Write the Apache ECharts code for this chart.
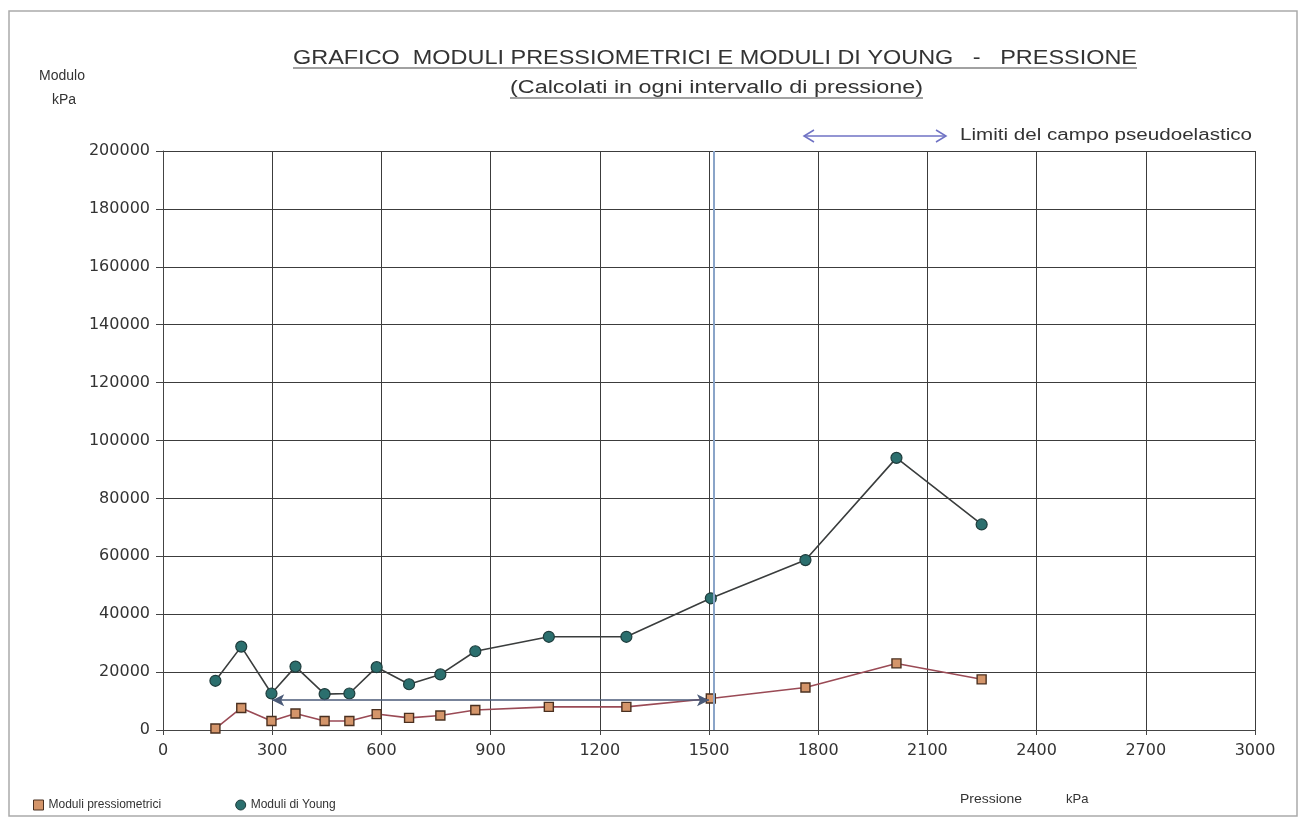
<!DOCTYPE html>
<html>
<head>
<meta charset="utf-8">
<script src="https://cdn.jsdelivr.net/npm/echarts@6/dist/echarts.min.js"></script>
<style>
html,body{margin:0;padding:0;background:#fff;}
#chart{width:1303px;height:822px;}
</style>
</head>
<body>
<div id="chart"></div>
<script>
// ---- data ----
const pressioneYoung = [144, 215, 298, 364, 444, 512, 587, 676, 762, 858, 1060, 1273, 1505, 1765, 2015, 2249];
const moduliYoung = [17000, 28800, 12600, 21900, 12400, 12600, 21700, 15800, 19200, 27200, 32200, 32200, 45500, 58700, 94000, 71000];
const pressionePressiometrici = [144, 215, 298, 364, 444, 512, 587, 676, 762, 858, 1060, 1273, 1505, 1765, 2015, 2249];
const moduliPressiometrici = [500, 7600, 3100, 5700, 3100, 3100, 5500, 4200, 5000, 6900, 8000, 8000, 10900, 14700, 23000, 17500];
const limitiCampo = [300, 1500];
const limitiLivello = 10300;
const limiteVerticale = 1512;
const xTicks = [0, 300, 600, 900, 1200, 1500, 1800, 2100, 2400, 2700, 3000];
const yTicks = [0, 20000, 40000, 60000, 80000, 100000, 120000, 140000, 160000, 180000, 200000];

const titleText = 'GRAFICO  MODULI PRESSIOMETRICI E MODULI DI YOUNG   -   PRESSIONE';
const subtitleText = '(Calcolati in ogni intervallo di pressione)';
const limitiText = 'Limiti del campo pseudoelastico';

const chart = echarts.init(document.getElementById('chart'), null, {renderer: 'canvas'});

const youngData = pressioneYoung.map((x, i) => [x, moduliYoung[i]]);
const pressData = pressionePressiometrici.map((x, i) => [x, moduliPressiometrici[i]]);

const labelFont = {fontFamily: 'DejaVu Sans', fontSize: 16, color: '#333'};
const plain = v => String(v);

// measure helper for stretching texts to the reference widths
const ctx = document.createElement('canvas').getContext('2d');
function stretch(text, font, target) {
  ctx.font = font;
  return target / ctx.measureText(text).width;
}

const titleFont = '21px "Liberation Sans"';
const subFont = '18px "Liberation Sans"';
const limFont = '16px "Liberation Sans"';
const smallFont = '13px "Liberation Sans"';

chart.setOption({
  backgroundColor: '#fff',
  animation: false,
  grid: {left: 163, right: 48, top: 151, bottom: 92, containLabel: false},
  xAxis: {
    type: 'value', min: xTicks[0], max: xTicks[xTicks.length - 1], interval: xTicks[1] - xTicks[0],
    axisLine: {show: true, onZero: false, lineStyle: {color: '#444', width: 1}},
    axisTick: {show: true, length: 5, lineStyle: {color: '#444'}},
    axisLabel: Object.assign({margin: 13, formatter: plain}, labelFont),
    splitLine: {show: true, lineStyle: {color: '#3c3c3c', width: 1}}
  },
  yAxis: {
    type: 'value', min: yTicks[0], max: yTicks[yTicks.length - 1], interval: yTicks[1] - yTicks[0],
    axisLine: {show: true, lineStyle: {color: '#444', width: 1}},
    axisTick: {show: true, length: 7, lineStyle: {color: '#444'}},
    axisLabel: Object.assign({margin: 13, formatter: plain}, labelFont),
    splitLine: {show: true, lineStyle: {color: '#3c3c3c', width: 1}}
  },
  legend: {
    left: 28, top: 794, itemWidth: 10, itemHeight: 10, itemGap: 74,
    textStyle: {fontFamily: 'Liberation Sans', fontSize: 12, color: '#333'},
    data: [
      {name: 'Moduli pressiometrici', icon: 'rect', itemStyle: {color: '#d4956a', borderColor: '#4a3020', borderWidth: 1}},
      {name: 'Moduli di Young', icon: 'circle', itemStyle: {color: '#2b6f6e', borderColor: '#1e3c3c', borderWidth: 1}}
    ]
  },
  series: [
    {
      name: 'Moduli di Young', type: 'line', data: youngData,
      symbol: 'circle', symbolSize: 11,
      lineStyle: {color: '#3a3d3d', width: 1.6},
      itemStyle: {color: '#2b6f6e', borderColor: '#1e3c3c', borderWidth: 1.2},
      z: 4,
      markLine: {
        silent: true, symbol: ['none', 'none'], label: {show: false},
        lineStyle: {color: '#8aa4c8', width: 2, type: 'solid'},
        data: [{xAxis: limiteVerticale}]
      }
    },
    {
      name: 'Moduli pressiometrici', type: 'line', data: pressData,
      symbol: 'rect', symbolSize: 9,
      lineStyle: {color: '#9a4a55', width: 1.6},
      itemStyle: {color: '#d4956a', borderColor: '#4a3020', borderWidth: 1.4},
      z: 3,
      markLine: {
        silent: true, symbol: ['arrow', 'arrow'], symbolSize: [9, 12], label: {show: false},
        lineStyle: {color: '#4a5a78', width: 1.5, type: 'solid'},
        data: [[{coord: [limitiCampo[0], limitiLivello]}, {coord: [limitiCampo[1], limitiLivello]}]]
      }
    }
  ],
  graphic: [
    {type: 'rect', shape: {x: 9, y: 11, width: 1288, height: 805}, style: {fill: 'none', stroke: '#aaa', lineWidth: 1.5}, silent: true},
    {type: 'text', x: 293, y: 48, scaleX: stretch(titleText, titleFont, 844), style: {text: titleText, font: titleFont, fill: '#333', textAlign: 'left'}},
    {type: 'line', shape: {x1: 293, y1: 68, x2: 1137, y2: 68}, style: {stroke: '#444', lineWidth: 1.2}},
    {type: 'text', x: 510, y: 79, scaleX: stretch(subtitleText, subFont, 413), style: {text: subtitleText, font: subFont, fill: '#333', textAlign: 'left'}},
    {type: 'line', shape: {x1: 510, y1: 98, x2: 923, y2: 98}, style: {stroke: '#444', lineWidth: 1.2}},
    {type: 'text', x: 39, y: 69, scaleX: 1.0, style: {text: 'Modulo', font: '14px "Liberation Sans"', fill: '#333', textAlign: 'left'}},
    {type: 'text', x: 52, y: 93, style: {text: 'kPa', font: '14px "Liberation Sans"', fill: '#333', textAlign: 'left'}},
    {type: 'line', shape: {x1: 804, y1: 136, x2: 946, y2: 136}, style: {stroke: '#6f72c4', lineWidth: 1.5}},
    {type: 'polyline', shape: {points: [[814, 130], [804, 136], [814, 142]]}, style: {stroke: '#6f72c4', lineWidth: 1.5, fill: 'none'}},
    {type: 'polyline', shape: {points: [[936, 130], [946, 136], [936, 142]]}, style: {stroke: '#6f72c4', lineWidth: 1.5, fill: 'none'}},
    {type: 'text', x: 960, y: 128, scaleX: stretch(limitiText, limFont, 292), style: {text: limitiText, font: limFont, fill: '#333', textAlign: 'left'}},
    {type: 'text', x: 960, y: 793, scaleX: stretch('Pressione', smallFont, 62), style: {text: 'Pressione', font: smallFont, fill: '#333'}},
    {type: 'text', x: 1066, y: 793, style: {text: 'kPa', font: smallFont, fill: '#333'}}
  ]
});
</script>
</body>
</html>
